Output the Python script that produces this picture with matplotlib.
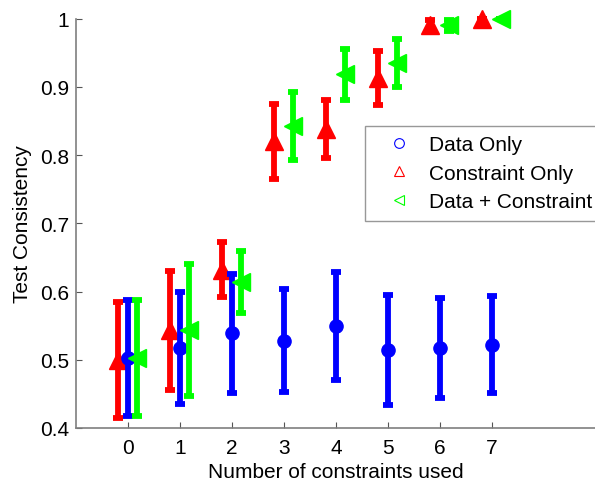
import matplotlib.pyplot as plt
from matplotlib.lines import Line2D
import numpy as np

plt.rcParams['font.family'] = ['Liberation Sans', 'DejaVu Sans']

n_constraints = [0, 1, 2, 3, 4, 5, 6, 7]

# Data only
data_mean = [0.502, 0.517, 0.539, 0.528, 0.550, 0.514, 0.517, 0.522]
data_err = [0.085, 0.082, 0.087, 0.075, 0.079, 0.081, 0.073, 0.071]

# Constraint only
cons_mean = [0.500, 0.543, 0.632, 0.820, 0.838, 0.913, 0.990, 1.000]
cons_err = [0.085, 0.087, 0.040, 0.055, 0.042, 0.040, 0.008, 0.0]

# Data + constraint
both_mean = [0.502, 0.544, 0.614, 0.842, 0.918, 0.935, 0.990, 1.000]
both_err = [0.085, 0.097, 0.045, 0.050, 0.038, 0.035, 0.008, 0.0]

x = np.array(n_constraints)

fig = plt.figure(figsize=(5.95, 4.81), dpi=100)
ax = fig.add_axes([76/595, 1-429/481, (596-76)/595, (429-19.5)/481])

style = dict(elinewidth=4.2, capsize=3.5, capthick=4.2, clip_on=False)
for xo, m, e, fmt, c, ms, z in [(x - 0.19, cons_mean, cons_err, '^', (1, 0, 0), 13, 3),
                                (x, data_mean, data_err, 'o', (0, 0, 1), 9.5, 4),
                                (x + 0.17, both_mean, both_err, '<', (0, 1, 0), 13, 5)]:
    eb = ax.errorbar(xo, m, yerr=e, fmt=fmt, color=c, ms=ms, zorder=z, **style)
    for art in eb.lines[1] + eb.lines[2]:
        art.set_clip_on(False)

ax.set_xlim(-1, 9)
ax.set_ylim(0.4, 1)
ax.set_xticks(n_constraints)
ax.set_yticks([0.4, 0.5, 0.6, 0.7, 0.8, 0.9, 1.0])
ax.set_yticklabels(['0.4', '0.5', '0.6', '0.7', '0.8', '0.9', '1'])

for s in ['top', 'right']:
    ax.spines[s].set_visible(False)
for s in ['left', 'bottom']:
    ax.spines[s].set_color('#7f7f7f')
    ax.spines[s].set_linewidth(1.2)
ax.tick_params(direction='in', length=4, width=0.8, color='#555555',
               labelsize=15)
ax.tick_params(axis='x', pad=7)
ax.tick_params(axis='y', pad=5)

ax.set_xlabel('Number of constraints used', fontsize=15, labelpad=4)
ax.set_ylabel('Test Consistency', fontsize=15, labelpad=6)

handles = [
    Line2D([], [], ls='none', marker='o', mfc='none', mec=(0, 0, 1), ms=7, mew=0.8),
    Line2D([], [], ls='none', marker='^', mfc='none', mec=(1, 0, 0), ms=7, mew=0.8),
    Line2D([], [], ls='none', marker='<', mfc='none', mec=(0, 1, 0), ms=7, mew=0.8),
]
leg = fig.legend(handles, ['Data Only', 'Constraint Only', 'Data + Constraint'],
                 loc='upper left', bbox_to_anchor=(365/595, 1-127/481),
                 fontsize=15, frameon=True, fancybox=False, edgecolor='#7f7f7f',
                 borderaxespad=0, handlelength=2.4, handletextpad=0.2,
                 labelspacing=0.45, borderpad=0.45)
leg.get_frame().set_linewidth(1.0)

fig.savefig('out.png', dpi=100)
